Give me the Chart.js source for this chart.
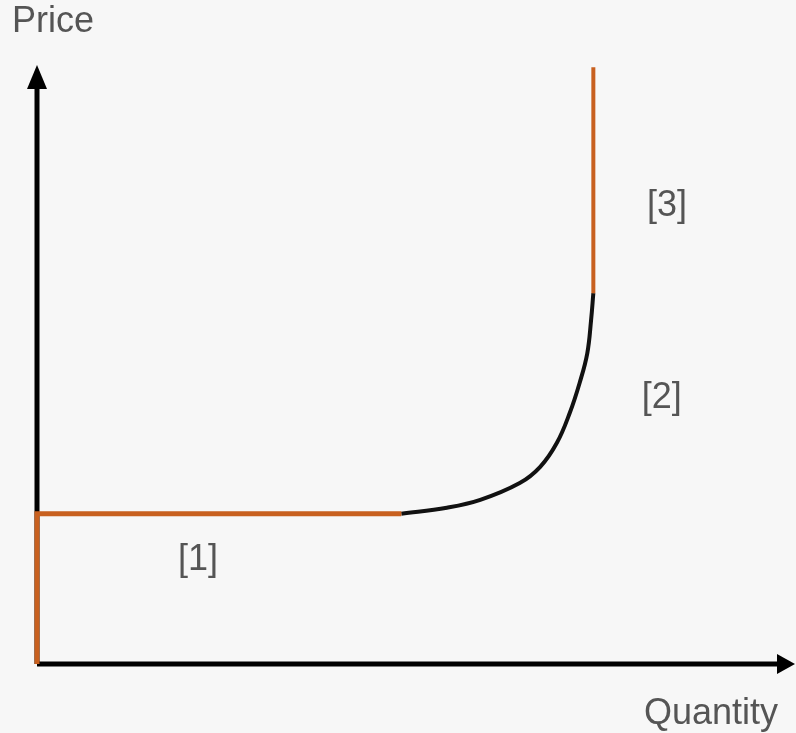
<!DOCTYPE html>
<html>
<head>
<meta charset="utf-8">
<script src="https://cdn.jsdelivr.net/npm/chart.js@4/dist/chart.umd.min.js"></script>
<style>
  html, body { margin: 0; padding: 0; background: #f7f7f7; }
  #wrap { width: 796px; height: 733px; position: relative; }
</style>
</head>
<body>
<div id="wrap"><canvas id="supplyChart"></canvas></div>
<script>
// Supply curve pieces (quantity, price), abstract units 0..10
const floorSegment = [[0, 0], [0, 2.5], [4.8, 2.5]];
const rampCurve = [
  [4.8, 2.5], [5.4, 2.6], [5.84, 2.73], [6.36, 3.01], [6.63, 3.28],
  [6.85, 3.68], [7.02, 4.18], [7.15, 4.68], [7.25, 5.17], [7.3, 5.72], [7.33, 6.17]
];
const capSegment = [[7.33, 6.17], [7.33, 9.93]];

// axis lines (arrowheads added by plugin at the scale max)
const priceAxis = [[0, 0], [0, 9.7]];
const quantityAxis = [[0, 0], [9.8, 0]];

// text annotations
const regionLabels = ["[1]", "[2]", "[3]"];
const regionPos = [[2.12, 1.73], [8.23, 4.43], [8.3, 7.62]];
const axisNames = ["Price", "Quantity"];
const axisNamePos = [[0.21, 10.68], [8.88, -0.83]];

const ORANGE = "#c8601f";
const TEXT = "#555555";

const pts = (arr) => arr.map(([x, y]) => ({ x, y }));

// arrowheads + labels
const decorations = {
  id: "decorations",
  afterDatasetsDraw(chart) {
    const ctx = chart.ctx;
    const xs = chart.scales.x, ys = chart.scales.y;
    const ox = xs.getPixelForValue(0), oy = ys.getPixelForValue(0);
    const top = ys.getPixelForValue(10) + 2;
    const right = xs.getPixelForValue(10) - 1;
    ctx.save();
    ctx.fillStyle = "#000";
    // up arrow
    ctx.beginPath();
    ctx.moveTo(ox, top);
    ctx.lineTo(ox - 10, top + 24);
    ctx.lineTo(ox + 10, top + 24);
    ctx.closePath();
    ctx.fill();
    // right arrow
    ctx.beginPath();
    ctx.moveTo(right, oy);
    ctx.lineTo(right - 18, oy - 10);
    ctx.lineTo(right - 18, oy + 10);
    ctx.closePath();
    ctx.fill();

    ctx.fillStyle = TEXT;
    ctx.font = '36px "Liberation Sans", Arial, sans-serif';
    ctx.textAlign = "center";
    ctx.textBaseline = "middle";
    regionLabels.forEach((t, i) => {
      ctx.fillText(t, xs.getPixelForValue(regionPos[i][0]), ys.getPixelForValue(regionPos[i][1]));
    });
    axisNames.forEach((t, i) => {
      ctx.fillText(t, xs.getPixelForValue(axisNamePos[i][0]), ys.getPixelForValue(axisNamePos[i][1]));
    });
    ctx.restore();
  }
};

// first dataset is drawn on top, so the orange pieces go first
new Chart(document.getElementById("supplyChart"), {
  type: "scatter",
  data: {
    datasets: [
      { data: pts(floorSegment), showLine: true, borderColor: ORANGE, borderWidth: 5, pointRadius: 0, clip: false, borderJoinStyle: "miter" },
      { data: pts(capSegment), showLine: true, borderColor: ORANGE, borderWidth: 4, pointRadius: 0, clip: false },
      { data: pts(rampCurve), showLine: true, borderColor: "#111", borderWidth: 4, pointRadius: 0, clip: false, tension: 0.4 },
      { data: pts(priceAxis), showLine: true, borderColor: "#000", borderWidth: 5, pointRadius: 0, clip: false },
      { data: pts(quantityAxis), showLine: true, borderColor: "#000", borderWidth: 5, pointRadius: 0, clip: false }
    ]
  },
  options: {
    responsive: true,
    maintainAspectRatio: false,
    animation: false,
    layout: { padding: { left: 37, right: 0, top: 63, bottom: 69 } },
    scales: {
      x: { type: "linear", min: 0, max: 10, display: false },
      y: { type: "linear", min: 0, max: 10, display: false }
    },
    plugins: { legend: { display: false }, tooltip: { enabled: false } }
  },
  plugins: [decorations]
});
</script>
</body>
</html>
